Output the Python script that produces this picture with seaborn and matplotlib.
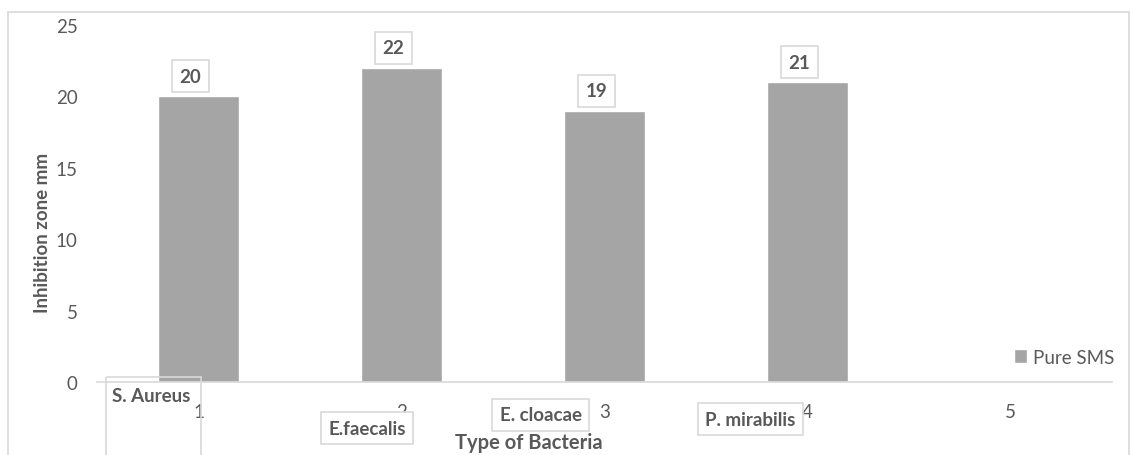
import numpy as np
import pandas as pd
import seaborn as sns
import matplotlib.pyplot as plt
from matplotlib.patches import Rectangle

# Inhibition zone (mm) measured for pure SMS against each isolate
positions = ["1", "2", "3", "4", "5"]
inhibition_mm = [20, 22, 19, 21, np.nan]
bacteria = ["S. Aureus", "E.faecalis", "E. cloacae", "P. mirabilis"]
series_name = "Pure SMS"

TEXT = "#595959"
LINE = "#D9D9D9"
BAR = "#A5A5A5"

sns.set_theme(style="white")
plt.rcParams["font.family"] = ["Lato", "DejaVu Sans"]

df = pd.DataFrame({"pos": positions, "mm": inhibition_mm, "series": series_name})

fig = plt.figure(figsize=(11.31, 4.56), dpi=100)
ax = fig.add_axes([97 / 1131, 73 / 456, 1015 / 1131, 357 / 456])

sns.barplot(data=df, x="pos", y="mm", hue="series", order=positions,
            palette={series_name: BAR}, width=0.4, dodge=False,
            saturation=1, ax=ax, errorbar=None)

ax.set_ylim(0, 25)
ax.set_xlim(-0.5, 4.5)
ax.set_yticks(range(0, 26, 5))
for s in ["top", "right", "left"]:
    ax.spines[s].set_visible(False)
ax.spines["bottom"].set_color(LINE)
ax.spines["bottom"].set_linewidth(1.2)
ax.tick_params(axis="y", length=0, pad=14, labelsize=13.5, labelcolor=TEXT)
ax.tick_params(axis="x", length=0, pad=15, labelsize=13.5, labelcolor=TEXT)

ax.set_ylabel("Inhibition zone mm", fontsize=13.5, fontweight="bold", color=TEXT,
              va="center")
ax.yaxis.set_label_coords(-0.054, 0.42)
ax.set_xlabel("Type of Bacteria", fontsize=14.5, fontweight="bold", color=TEXT,
              va="center")
ax.xaxis.set_label_coords(0.4256, -0.168)

box = dict(boxstyle="square,pad=0.4", fc="white", ec=LINE, lw=1.2)

# value labels above each bar
for i, v in enumerate(inhibition_mm):
    if np.isnan(v):
        continue
    ax.text(i - 0.04, v + 1.4, f"{v:g}", ha="center", va="center",
            fontsize=13.5, fontweight="bold", color=TEXT, bbox=box)

# isolate name labels under the axis
ax.add_patch(Rectangle((-0.458, 0.35), 0.468, -6.5, transform=ax.transData,
                       fill=False, ec=LINE, lw=1.2, clip_on=False))
ax.text(-0.424, -0.98, bacteria[0], ha="left", va="center", fontsize=13.5,
        fontweight="bold", color=TEXT, clip_on=False)
name_xy = [(0.83, -3.25), (1.687, -2.31), (2.72, -2.6)]
for name, (x, y) in zip(bacteria[1:], name_xy):
    ax.text(x, y, name, ha="center", va="center", fontsize=13.5,
            fontweight="bold", color=TEXT, bbox=dict(box, pad=0.3),
            clip_on=False)

handles, labels = ax.get_legend_handles_labels()
ax.legend(handles, labels, loc="center left", bbox_to_anchor=(0.887, 0.07),
          frameon=False, fontsize=13.5, labelcolor=TEXT, handlelength=0.7,
          handleheight=0.7, handletextpad=0.3)

# outer chart border
fig.patches.append(Rectangle((8 / 1131, -0.02), 1121 / 1131, 1.02 - 13 / 456,
                             transform=fig.transFigure, fill=False, ec=LINE,
                             lw=1.2))

fig.savefig("out.png", dpi=100)
